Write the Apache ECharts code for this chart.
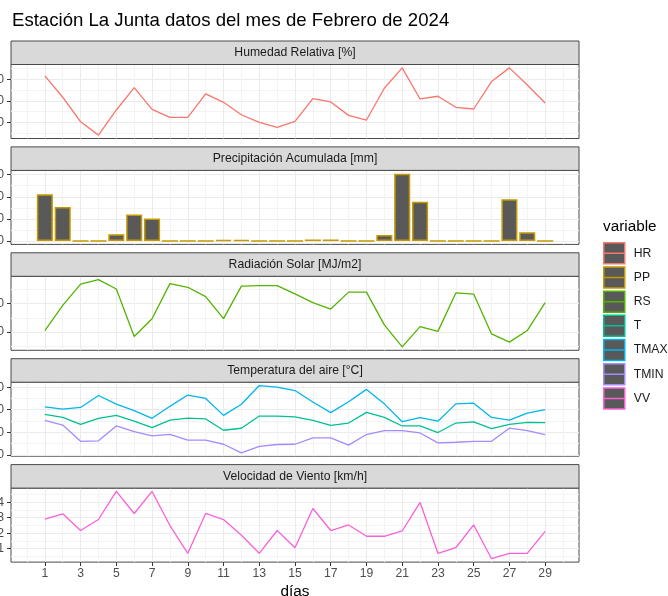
<!DOCTYPE html>
<html lang="es">
<head>
<meta charset="UTF-8">
<title>Estación La Junta - Febrero 2024</title>
<script src="https://cdn.jsdelivr.net/npm/echarts@6/dist/echarts.min.js"></script>
<style>html,body{margin:0;padding:0;background:#fff;}</style>
</head>
<body>
<div id="main" style="width:668px;height:596px;"></div>
<script type="text/javascript">
// datos diarios, febrero 2024
var dias = [1,2,3,4,5,6,7,8,9,10,11,12,13,14,15,16,17,18,19,20,21,22,23,24,25,26,27,28,29];
var humedad = [83.1,63.3,40.6,28.2,51.5,72.2,52.1,44.7,44.7,66.4,58.6,47.1,40.0,35.3,40.9,62.0,58.9,46.5,42.2,71.6,90.5,61.7,64.2,54.0,52.4,77.8,90.5,74.7,58.0];
var precipitacion = [21.1,15.4,0,0,3.1,12.0,10.2,0,0,0,0.4,0.4,0,0,0,0.7,0.7,0,0,2.7,30.4,17.7,0,0,0,0,18.9,4.0,0];
var radiacion = [10.5,19.4,26.9,28.5,25.2,8.4,14.7,27.1,25.8,22.5,14.7,26.2,26.4,26.4,23.5,20.4,18.1,24.1,24.1,12.5,4.7,11.9,10.2,23.8,23.4,9.3,6.4,10.5,20.4];
var temp = [17.9,16.6,13.5,16.2,17.5,14.9,12.1,15.4,16.3,15.9,10.9,11.8,17.2,17.2,16.8,15.3,13.1,14.1,18.8,16.6,12.8,12.8,9.9,14.1,14.6,11.6,13.5,14.4,14.3];
var tmax = [21.3,20.3,21.0,26.3,22.5,19.6,16.2,21.5,26.5,25.0,17.5,22.4,30.7,30.0,28.5,23.4,18.7,23.5,29.0,22.6,14.7,16.5,14.9,22.6,22.9,16.6,15.4,18.5,20.0];
var tmin = [15.3,13.2,6.0,6.2,12.8,10.3,8.4,9.1,6.5,6.5,4.7,0.9,3.8,4.6,4.7,7.5,7.5,4.3,9.0,10.7,10.7,9.7,5.3,5.6,6.0,6.0,11.8,10.7,9.0];
var viento = [2.90,3.25,2.17,2.88,4.69,3.27,4.69,2.49,0.70,3.27,2.88,1.86,0.70,2.17,1.06,3.59,2.17,2.53,1.80,1.80,2.14,3.98,0.70,1.06,2.53,0.35,0.70,0.70,2.12];

// ticks
var ticksX = [1,3,5,7,9,11,13,15,17,19,21,23,25,27,29];
var minorX = [0,2,4,6,8,10,12,14,16,18,20,22,24,26,28,30];
var ticksHR = [40,60,80], minorHR = [30,50,70,90];
var ticksPP = [0,10,20,30], minorPP = [5,15,25];
var ticksRS = [10,20], minorRS = [5,15,25];
var ticksT = [0,10,20,30], minorT = [5,15,25];
var ticksVV = [1,2,3,4], minorVV = [0.5,1.5,2.5,3.5,4.5];

var fuente = '"Liberation Sans", Arial, sans-serif';
var colores = {HR:'#F8766D', PP:'#C49A00', RS:'#53B400', T:'#00C094', TMAX:'#00B6EB', TMIN:'#A58AFF', VV:'#FB61D7'};

function rango(vals, cero) {
    var lo = Math.min.apply(null, vals), hi = Math.max.apply(null, vals);
    if (cero) lo = Math.min(lo, 0);
    var e = (hi - lo) * 0.05;
    return [lo - e, hi + e];
}

var xLo = dias[0] - 0.45, xHi = dias[dias.length - 1] + 0.45;
var xExp = (xHi - xLo) * 0.05;
var xMin = xLo - xExp, xMax = xHi + xExp;

var paneles = [
    {titulo:'Humedad Relativa [%]', vars:[['HR', humedad]], ticks:ticksHR, minor:minorHR, r:rango(humedad)},
    {titulo:'Precipitación Acumulada [mm]', vars:[['PP', precipitacion]], ticks:ticksPP, minor:minorPP, r:rango(precipitacion, true), barra:true},
    {titulo:'Radiación Solar [MJ/m2]', vars:[['RS', radiacion]], ticks:ticksRS, minor:minorRS, r:rango(radiacion)},
    {titulo:'Temperatura del aire [°C]', vars:[['T', temp], ['TMAX', tmax], ['TMIN', tmin]], ticks:ticksT, minor:minorT, r:rango(temp.concat(tmax, tmin))},
    {titulo:'Velocidad de Viento [km/h]', vars:[['VV', viento]], ticks:ticksVV, minor:minorVV, r:rango(viento)}
];

var gLeft = 11, gWidth = 568, stripH = 23.5, panelH = 74;
var stripTop = [41, 146.9, 252.8, 358.7, 464.6];
var pxDia = gWidth / (xMax - xMin);

var grids = [], xAxes = [], yAxes = [], series = [], graficos = [];
paneles.forEach(function (p, i) {
    var ultimo = i === paneles.length - 1;
    var top = stripTop[i] + stripH;
    grids.push({left:gLeft, top:top, width:gWidth, height:panelH, show:true,
        backgroundColor:'#fff', borderColor:'#4a4a4a', borderWidth:1, containLabel:false, outerBoundsMode:'none'});

    // eje principal
    xAxes.push({type:'value', gridIndex:i, min:xMin, max:xMax, position:'bottom',
        axisLine:{show:false, onZero:false},
        axisTick:{show:ultimo, customValues:ticksX, length:4, lineStyle:{color:'#333'}},
        axisLabel:{show:ultimo, customValues:ticksX, margin:6, color:'#4D4D4D', fontSize:12.2, fontFamily:fuente},
        splitLine:{show:true, lineStyle:{color:'#EBEBEB', width:1}},
        name: ultimo ? 'días' : '', nameLocation:'middle', nameGap:22,
        nameTextStyle:{fontSize:15.3, color:'#000', fontFamily:fuente}});
    // lineas menores
    xAxes.push({type:'value', gridIndex:i, min:xMin, max:xMax, position:'bottom',
        axisLine:{show:false, onZero:false}, axisTick:{show:false, customValues:minorX},
        axisLabel:{show:false, customValues:minorX},
        splitLine:{show:true, lineStyle:{color:'#F3F3F3', width:1}}});

    yAxes.push({type:'value', gridIndex:i, min:p.r[0], max:p.r[1], position:'left',
        axisLine:{show:false, onZero:false},
        axisTick:{show:true, customValues:p.ticks, length:4, lineStyle:{color:'#333'}},
        axisLabel:{customValues:p.ticks, margin:7, color:'#4D4D4D', fontSize:12.2, fontFamily:fuente},
        splitLine:{show:true, lineStyle:{color:'#EBEBEB', width:1}}});
    yAxes.push({type:'value', gridIndex:i, min:p.r[0], max:p.r[1], position:'left',
        axisLine:{show:false, onZero:false}, axisTick:{show:false, customValues:p.minor},
        axisLabel:{show:false, customValues:p.minor},
        splitLine:{show:true, lineStyle:{color:'#F3F3F3', width:1}}});

    p.vars.forEach(function (v) {
        var pts = dias.map(function (d, k) { return [d, v[1][k]]; });
        if (p.barra) {
            series.push({type:'bar', name:v[0], xAxisIndex:2*i, yAxisIndex:2*i, data:pts,
                barWidth:0.9 * pxDia,
                itemStyle:{color:'#595959', borderColor:colores[v[0]], borderWidth:1.5}});
        } else {
            series.push({type:'line', name:v[0], xAxisIndex:2*i, yAxisIndex:2*i, data:pts,
                symbol:'none', showSymbol:false, z:3,
                lineStyle:{color:colores[v[0]], width:1.3}, itemStyle:{color:colores[v[0]]}});
        }
    });

    // franja del titulo de panel
    graficos.push({type:'rect', shape:{x:gLeft, y:stripTop[i], width:gWidth, height:stripH},
        style:{fill:'#D9D9D9', stroke:'#4a4a4a', lineWidth:1}, z:10});
    graficos.push({type:'text', x:gLeft + gWidth / 2, y:stripTop[i] + stripH / 2, z:11,
        style:{text:p.titulo, fill:'#1A1A1A', fontSize:12.2, fontFamily:fuente, align:'center', verticalAlign:'middle'}});
});

var icono = 'path://M0,0H22V22H0ZM0,11H22';
var nombres = ['HR','PP','RS','T','TMAX','TMIN','VV'];

var myChart = echarts.init(document.getElementById('main'));
var option = {
    animation:false,
    backgroundColor:'#fff',
    title:[
        {text:'Estación La Junta datos del mes de Febrero de 2024', left:12, top:11, padding:0,
            textStyle:{fontSize:18.6, fontWeight:'normal', color:'#000', fontFamily:fuente}},
        {text:'variable', left:603, top:219, padding:0,
            textStyle:{fontSize:15.3, fontWeight:'normal', color:'#000', fontFamily:fuente}}
    ],
    legend:{orient:'vertical', left:603, top:242, padding:0, itemWidth:21, itemHeight:21, itemGap:1.7,
        selectedMode:false, icon:icono,
        textStyle:{fontSize:12.2, color:'#1A1A1A', fontFamily:fuente, padding:[0,0,0,4]},
        data:nombres.map(function (n) {
            return {name:n, icon:icono, itemStyle:{color:'#595959', borderColor:colores[n], borderWidth:1.5}};
        })},
    grid:grids,
    xAxis:xAxes,
    yAxis:yAxes,
    series:series,
    graphic:graficos
};
myChart.setOption(option);
</script>
</body>
</html>
